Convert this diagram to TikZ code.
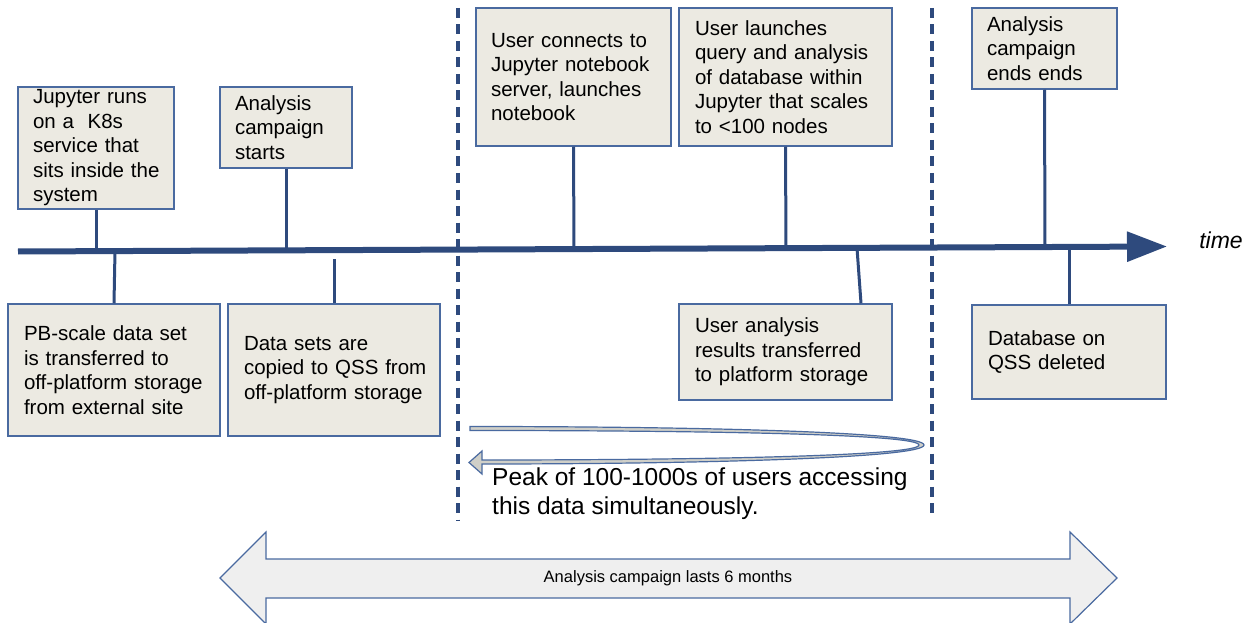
\documentclass[tikz,border=0pt]{standalone}
\usepackage{fontspec}
\setmainfont{Liberation Sans}
\usetikzlibrary{arrows.meta,calc}
\definecolor{tlblue}{HTML}{2E4A7D}
\definecolor{bxblue}{HTML}{4A6AA0}
\definecolor{bxfill}{HTML}{ECEAE2}
\definecolor{arfill}{HTML}{EFEFEF}
\definecolor{crvfill}{HTML}{CFCFC8}
\begin{document}
\begin{tikzpicture}[x=1pt,y=-1pt,
  box/.style={draw=bxblue, line width=1.5pt, fill=bxfill, inner xsep=12pt, inner ysep=0pt,
    align=left, font=\fontsize{20.5}{24.5}\selectfont},
  conn/.style={draw=tlblue, line width=3pt},
  dashline/.style={draw=tlblue, line width=3.2pt, dash pattern=on 10pt off 6.5pt}]
\useasboundingbox (0,0) rectangle (1256,623);

% timeline
\coordinate (tl0) at (18,251.5);
\coordinate (tl1) at (1167,246.5);
\draw[tlblue, line width=6pt, -{Triangle[length=40pt,width=29pt]}] (tl0) -- (tl1);
\node[font=\fontsize{23}{27}\selectfont\itshape, anchor=center] (time) at (1221,240) {time};

% dashed lines
\coordinate (d1a) at (458,8);   \coordinate (d1b) at (458,520);
\coordinate (d2a) at (932,8);   \coordinate (d2b) at (932,515);
\draw[dashline] (d1a) -- (d1b);
\draw[dashline] (d2a) -- (d2b);

% upper boxes (text width = box width - 24, left text inset ~15)
\node[box, text width=132pt, minimum height=122pt, xshift=0pt] (b1) at (96,148)
  {\hspace*{3pt}Jupyter runs\\\hspace*{3pt}on a \ K8s\\\hspace*{3pt}service that\\\hspace*{3pt}sits inside the\\\hspace*{3pt}system};
\node[box, text width=108pt, minimum height=81pt] (b2) at (286,127.5)
  {\hspace*{3pt}Analysis\\\hspace*{3pt}campaign\\\hspace*{3pt}starts};
\node[box, text width=171pt, minimum height=138pt] (b3) at (573.5,77)
  {\hspace*{3pt}User connects to\\\hspace*{3pt}Jupyter notebook\\\hspace*{3pt}server, launches\\\hspace*{3pt}notebook};
\node[box, text width=189pt, minimum height=138pt] (b4) at (785.5,77)
  {\hspace*{4pt}User launches\\\hspace*{4pt}query and analysis\\\hspace*{4pt}of database within\\\hspace*{4pt}Jupyter that scales\\\hspace*{4pt}to <100 nodes};
\node[box, text width=121pt, minimum height=81pt] (b5) at (1044.5,48.5)
  {\hspace*{3pt}Analysis\\\hspace*{3pt}campaign\\\hspace*{3pt}ends ends};

% lower boxes
\node[box, text width=188pt, minimum height=132pt] (b6) at (114,370)
  {\hspace*{4pt}PB-scale data set\\\hspace*{4pt}is transferred to\\\hspace*{4pt}off-platform storage\\\hspace*{4pt}from external site};
\node[box, text width=188pt, minimum height=132pt] (b7) at (334,370)
  {\hspace*{4pt}Data sets are\\\hspace*{4pt}copied to QSS from\\\hspace*{4pt}off-platform storage};
\node[box, text width=189pt, minimum height=96pt] (b8) at (785.5,352)
  {\hspace*{4pt}User analysis\\\hspace*{4pt}results transferred\\\hspace*{4pt}to platform storage};
\node[box, text width=170pt, minimum height=94pt] (b9) at (1069,352)
  {\hspace*{4pt}Database on\\\hspace*{4pt}QSS deleted};

% timeline anchor points
\coordinate (t1) at (96,251.2);
\coordinate (t2) at (286,250.3);
\coordinate (t3) at (574,248.6);
\coordinate (t4) at (786,248.2);
\coordinate (t5) at (1045,247.5);
\coordinate (t6) at (115,251.1);
\coordinate (t7) at (334,259);
\coordinate (t8) at (857,248);
\coordinate (t9) at (1069,247);

\draw[conn] (b1.south) -- (t1);
\draw[conn] (b2.south) -- (t2);
\draw[conn] (b3.south) -- (t3);
\draw[conn] (b4.south) -- (t4);
\draw[conn] (b5.south) -- (t5);
\draw[conn] (b6.north) -- (t6);
\draw[conn] (b7.north) -- (t7);
\draw[conn] ([xshift=75.5pt]b8.north) -- (t8);
\draw[conn] (b9.north) -- (t9);

% curved return arrow
\draw[draw=bxblue, line width=1.2pt, fill=crvfill, line join=miter]
  (470,426.5) .. controls (700,426.5) and (924,432) .. (924,445)
  .. controls (924,458) and (700,464) .. (482,464)
  -- (482,474) -- (469,462.5) -- (482,451) -- (482,460)
  .. controls (700,460) and (919,456) .. (919,445)
  .. controls (919,434) and (700,430.5) .. (470,430.5) -- cycle;
\node[anchor=north west, inner sep=0pt, align=left,
  font=\fontsize{24.5}{28.5}\selectfont] (peak) at (492,468)
  {Peak of 100-1000s of users accessing\\this data simultaneously.};

% campaign double arrow
\draw[draw=bxblue, line width=1.2pt, fill=arfill, line join=miter]
  (220,578) -- (266,532) -- (266,559) -- (1070,559) -- (1070,532) -- (1117,578)
  -- (1070,624) -- (1070,598) -- (266,598) -- (266,624) -- cycle;
\node[font=\fontsize{16.5}{19}\selectfont] (camp) at (668,578) {Analysis campaign lasts 6 months};
\end{tikzpicture}
\end{document}
